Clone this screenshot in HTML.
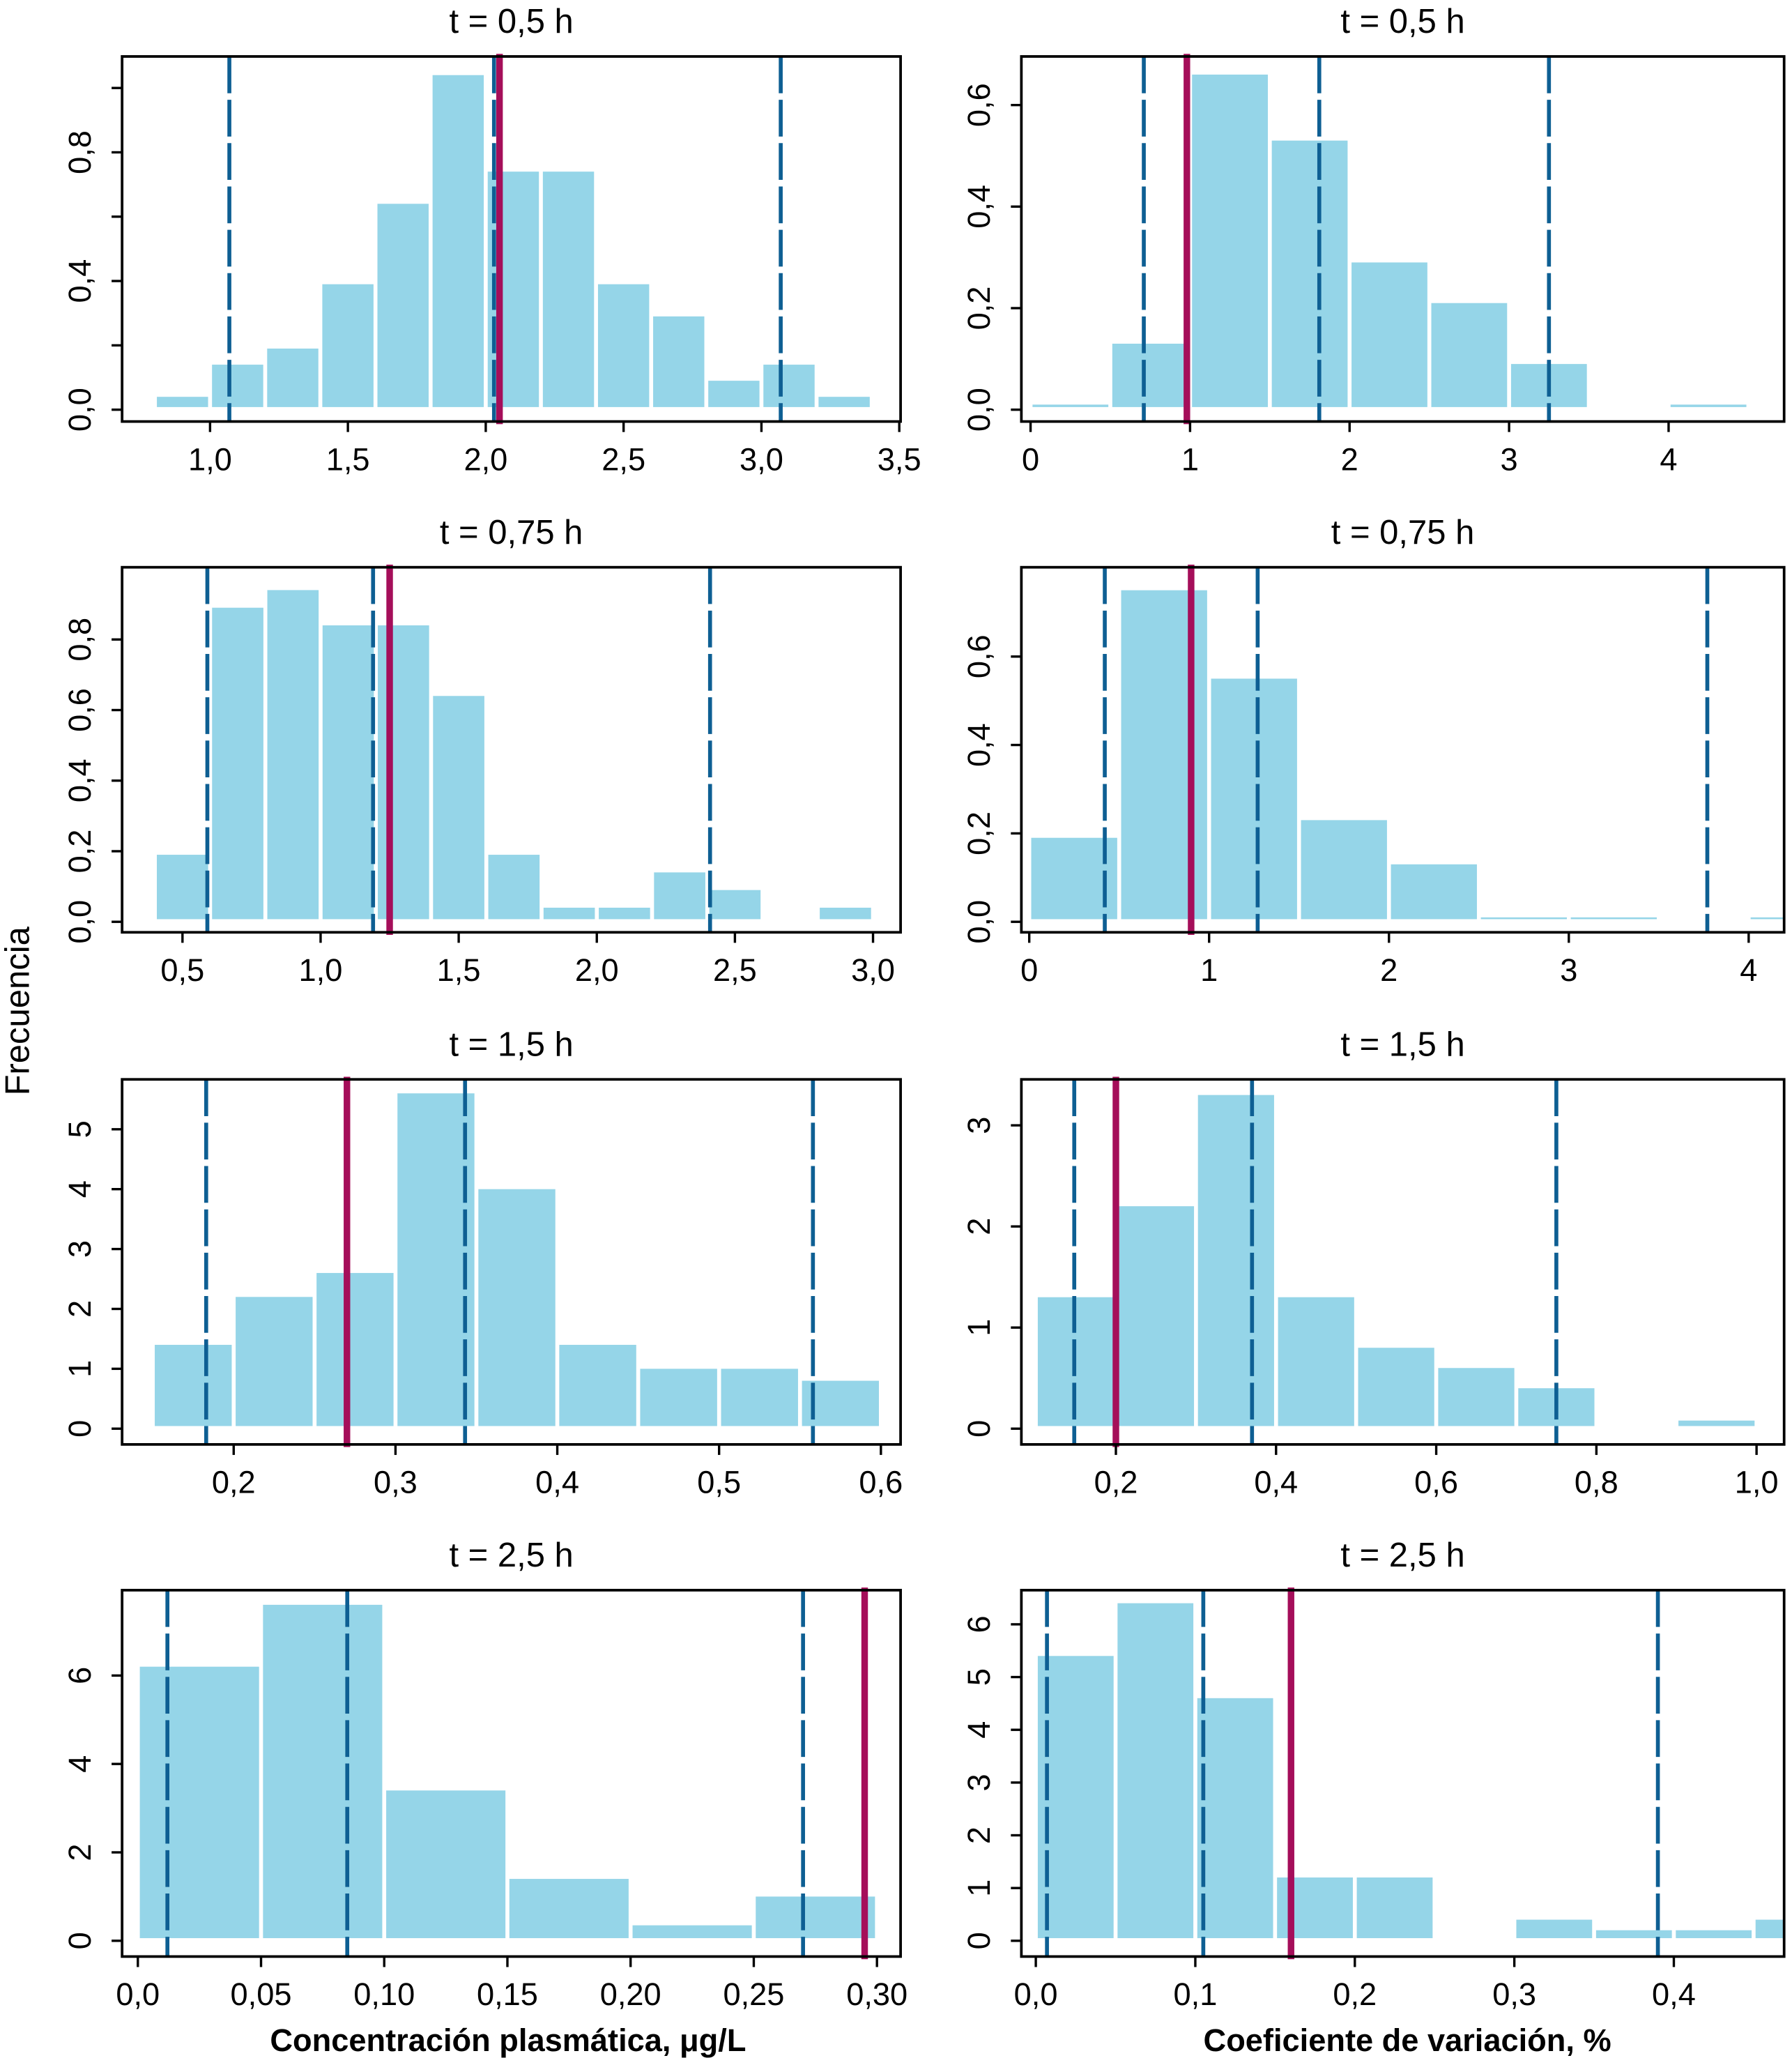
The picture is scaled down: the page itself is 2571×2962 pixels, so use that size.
<!DOCTYPE html>
<html><head><meta charset="utf-8"><style>
html,body{margin:0;padding:0;background:#fff;}
svg{display:block;}
text{font-family:"Liberation Sans",sans-serif;fill:#000;}
</style></head><body>
<svg id="chart" width="2571" height="2962" viewBox="0 0 1365 1572.6" xmlns="http://www.w3.org/2000/svg">
<text x="22" y="770" font-size="26" text-anchor="middle" transform="rotate(-90 22 770)">Frecuencia</text>
<text x="387" y="1562" font-size="24" font-weight="bold" text-anchor="middle">Concentración plasmática, μg/L</text>
<text x="1072" y="1562" font-size="24" font-weight="bold" text-anchor="middle">Coeficiente de variación, %</text>
</svg>
<script>
// Panel data
const titles = ["t = 0,5 h","t = 0,5 h","t = 0,75 h","t = 0,75 h","t = 1,5 h","t = 1,5 h","t = 2,5 h","t = 2,5 h"];
const binStarts = [0.8, 0, 0.4, 0, 0.15, 0.1, 0, 0];
const binWidths = [0.2, 0.5, 0.2, 0.5, 0.05, 0.1, 0.05, 0.05];
const freq1 = [0.04,0.14,0.19,0.39,0.64,1.04,0.74,0.74,0.39,0.29,0.09,0.14,0.04];
const freq2 = [0.01,0.13,0.66,0.53,0.29,0.21,0.09,0,0.01];
const freq3 = [0.19,0.89,0.94,0.84,0.84,0.64,0.19,0.04,0.04,0.14,0.09,0,0.04];
const freq4 = [0.19,0.75,0.55,0.23,0.13,0.01,0.01,0,0.01];
const freq5 = [1.4,2.2,2.6,5.6,4.0,1.4,1.0,1.0,0.8];
const freq6 = [1.3,2.2,3.3,1.3,0.8,0.6,0.4,0,0.08];
const freq7 = [6.2,7.6,3.4,1.4,0.35,1.0];
const freq8 = [5.4,6.4,4.6,1.2,1.2,0,0.4,0.2,0.2,0.4];
const dashedLines = [[1.07,2.03,3.07],[0.71,1.81,3.25],[0.59,1.19,2.41],[0.42,1.27,3.77],[0.183,0.343,0.558],[0.148,0.37,0.75],[0.012,0.085,0.27],[0.007,0.105,0.39]];
const redLines = [2.05,0.98,1.25,0.9,0.27,0.2,0.295,0.16];
const xTicks = [[1,1.5,2,2.5,3,3.5],[0,1,2,3,4],[0.5,1,1.5,2,2.5,3],[0,1,2,3,4],[0.2,0.3,0.4,0.5,0.6],[0.2,0.4,0.6,0.8,1.0],[0,0.05,0.1,0.15,0.2,0.25,0.3],[0,0.1,0.2,0.3,0.4]];
const xTickLabels = [["1,0","1,5","2,0","2,5","3,0","3,5"],["0","1","2","3","4"],["0,5","1,0","1,5","2,0","2,5","3,0"],["0","1","2","3","4"],["0,2","0,3","0,4","0,5","0,6"],["0,2","0,4","0,6","0,8","1,0"],["0,0","0,05","0,10","0,15","0,20","0,25","0,30"],["0,0","0,1","0,2","0,3","0,4"]];
const yTicks = [[0,0.2,0.4,0.6,0.8,1.0],[0,0.2,0.4,0.6],[0,0.2,0.4,0.6,0.8],[0,0.2,0.4,0.6],[0,1,2,3,4,5],[0,1,2,3],[0,2,4,6],[0,1,2,3,4,5,6]];
const yTickLabels = [["0,0","","0,4","","0,8",""],["0,0","0,2","0,4","0,6"],["0,0","0,2","0,4","0,6","0,8"],["0,0","0,2","0,4","0,6"],["0","1","2","3","4","5"],["0","1","2","3"],["0","2","4","6"],["0","1","2","3","4","5","6"]];
const freqs = [freq1,freq2,freq3,freq4,freq5,freq6,freq7,freq8];
// layout (display units)
const frames = [[93,43,686,321],[778,43,1359,321],[93,432,686,710],[778,432,1359,710],[93,822,686,1100],[778,822,1359,1100],[93,1211,686,1490],[778,1211,1359,1490]];
const xCal = [[1,160,3.5,685],[0,785,4,1271],[0.5,139,3,665],[0,784,4,1332],[0.2,178,0.6,671],[0.2,850,1,1338],[0,105,0.3,668],[0,789,0.4,1275]];
const yCal = [[0,312,0.8,116],[0,312,0.6,80],[0,702,0.8,487],[0,702,0.6,500],[0,1088,5,860],[0,1088,3,857],[0,1478,6,1276],[0,1478,6,1237]];
const NS="http://www.w3.org/2000/svg";
const svg=document.getElementById('chart');
function mk(tag,attrs,parent){const e=document.createElementNS(NS,tag);for(const k in attrs)e.setAttribute(k,attrs[k]);(parent||svg).appendChild(e);return e;}
const defs=mk('defs',{});
for(let p=0;p<8;p++){
  const [fx0,fy0,fx1,fy1]=frames[p];
  const xc=xCal[p],yc=yCal[p];
  const X=v=>xc[1]+(v-xc[0])*(xc[3]-xc[1])/(xc[2]-xc[0]);
  const Y=v=>yc[1]+(v-yc[0])*(yc[3]-yc[1])/(yc[2]-yc[0]);
  const cp=mk('clipPath',{id:'clip'+p},defs);
  mk('rect',{x:fx0,y:fy0,width:fx1-fx0,height:fy1-fy0},cp);
  const g=mk('g',{});
  
  
  const cx=(fx0+fx1)/2;
  const t=mk('text',{x:cx,y:fy0-18,'font-size':26,'text-anchor':'middle'},g);
  t.textContent=titles[p];
  
  
  const bg=mk('g',{'clip-path':'url(#clip'+p+')'},g);
  freqs[p].forEach((f,i)=>{
    if(f<=0)return;
    const a=binStarts[p]+i*binWidths[p],b=a+binWidths[p];
    const r=mk('rect',{x:X(a)+1.5,y:Y(f),width:X(b)-X(a)-3,height:Y(0)-Y(f)-2,fill:'#95d5e8'},bg);
    
    
  });
  dashedLines[p].forEach(v=>{
    const l=mk('line',{x1:X(v),x2:X(v),y1:fy0,y2:fy1,stroke:'#0e5f93','stroke-width':3,'stroke-dasharray':'28 5'},bg);
    
    
  });
  const rl=mk('line',{x1:X(redLines[p]),x2:X(redLines[p]),y1:fy0-2,y2:fy1+2,stroke:'#a50e5a','stroke-width':5},g);
  
  
  const fr=mk('rect',{x:fx0,y:fy0,width:fx1-fx0,height:fy1-fy0,fill:'none',stroke:'#000','stroke-width':2},g);
  
  
  xTicks[p].forEach((v,i)=>{
    const x=X(v);
    mk('line',{x1:x,x2:x,y1:fy1,y2:fy1+8,stroke:'#000','stroke-width':1.8},g);
    const tx=mk('text',{x:x,y:fy1+37,'font-size':24,'text-anchor':'middle'},g);
    tx.textContent=xTickLabels[p][i];
    
    
  });
  yTicks[p].forEach((v,i)=>{
    const y=Y(v);
    mk('line',{x1:fx0-8,x2:fx0,y1:y,y2:y,stroke:'#000','stroke-width':1.8},g);
    const lab=yTickLabels[p][i];
    if(lab){
      const lx=fx0-24;
      const ty=mk('text',{x:lx,y:y,'font-size':24,'text-anchor':'middle',transform:'rotate(-90 '+lx+' '+y+')'},g);
      ty.textContent=lab;
      
      
    }
  });
}
</script>
</body></html>
